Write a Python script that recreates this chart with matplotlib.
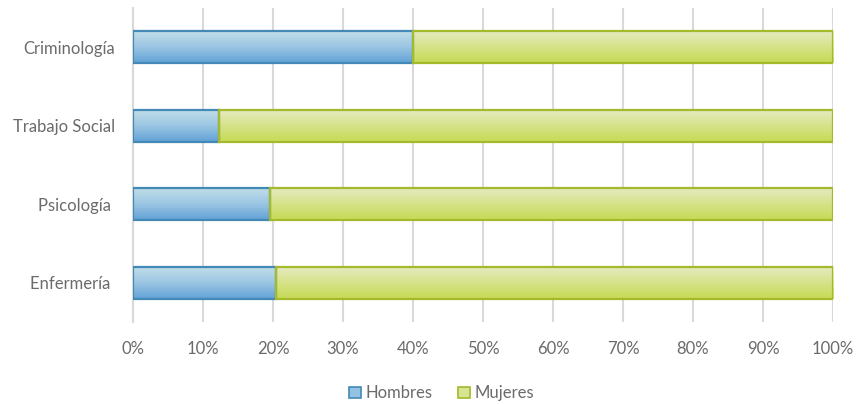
import numpy as np
import matplotlib
matplotlib.use("Agg")
import matplotlib.pyplot as plt
from matplotlib.colors import LinearSegmentedColormap
from matplotlib.patches import Patch

plt.rcParams['font.family'] = ['Lato', 'DejaVu Sans']

carreras = ["Enfermería ", "Psicología ", "Trabajo Social", "Criminología"]
hombres = [20.4, 19.6, 12.3, 40.0]
mujeres = [79.6, 80.4, 87.7, 60.0]
ticks = [0, 10, 20, 30, 40, 50, 60, 70, 80, 90, 100]

azul = LinearSegmentedColormap.from_list("azul", ["#c3dfe9", "#9cc6e3", "#62a2d6"])
verde = LinearSegmentedColormap.from_list("verde", ["#e5ebc3", "#d6e38a", "#c7da55"])
gris = "#6b6b6b"

fig = plt.figure(figsize=(8.56, 4.04), dpi=100)
ax = fig.add_axes([0.1554, 0.203, 0.8178, 0.777])

grad = np.linspace(0, 1, 64).reshape(-1, 1)
alto = 0.41


def barra(y, x0, ancho, cmap, borde):
    ax.imshow(grad, cmap=cmap, aspect="auto", origin="upper",
              extent=(x0, x0 + ancho, y - alto / 2, y + alto / 2),
              zorder=2, interpolation="bicubic")
    ax.add_patch(plt.Rectangle((x0, y - alto / 2), ancho, alto, fill=False,
                               edgecolor=borde, linewidth=1.6, zorder=3))


for i in range(len(carreras)):
    barra(i, 0, hombres[i], azul, "#4389b8")
    barra(i, hombres[i], mujeres[i], verde, "#a4b92b")

ax.set_xlim(0, 100)
ax.set_ylim(-0.5, len(carreras) - 0.5)
ax.set_xticks(ticks)
ax.set_xticklabels([f"{t}%" for t in ticks])
ax.set_yticks(range(len(carreras)))
ax.set_yticklabels(carreras)
ax.tick_params(axis="both", length=0, labelcolor=gris, labelsize=12)
ax.tick_params(axis="x", pad=14)
ax.tick_params(axis="y", pad=13)
ax.xaxis.grid(True, color="#d9d9d9", linewidth=1.5, zorder=0)
ax.set_axisbelow(True)
for lado in ["top", "right", "bottom"]:
    ax.spines[lado].set_visible(False)
ax.spines["left"].set_color("#d9d9d9")
ax.spines["left"].set_linewidth(1.5)

handles = [Patch(facecolor="#92c1e2", edgecolor="#4389b8", linewidth=1.2, label="Hombres"),
           Patch(facecolor="#d8e48f", edgecolor="#a4b92b", linewidth=1.2, label="Mujeres")]
fig.legend(handles=handles, loc="center", bbox_to_anchor=(0.516, 0.026), ncol=2,
           frameon=False, fontsize=12, labelcolor=gris, handlelength=0.7,
           handleheight=0.7, handletextpad=0.3, columnspacing=1.5,
           borderpad=0)

fig.savefig("out.png", dpi=100)
